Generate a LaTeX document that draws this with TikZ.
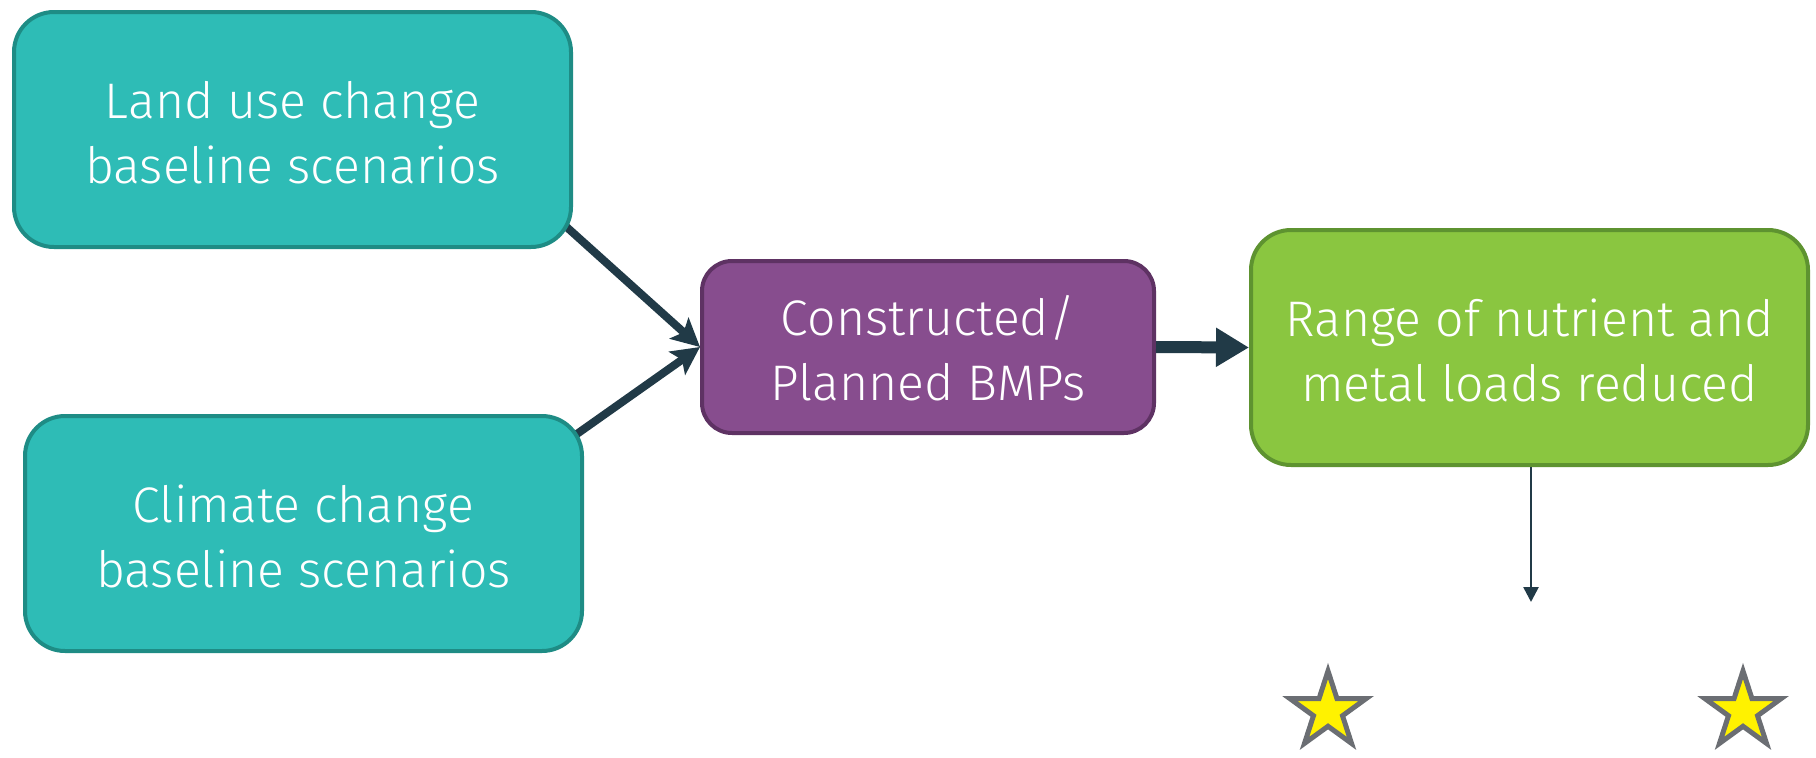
\documentclass[tikz,border=0pt]{standalone}
\usepackage{fontspec}
\setmainfont{Fira Sans Light}
\usetikzlibrary{shapes.geometric,arrows.meta,calc,backgrounds}
\definecolor{tealfill}{HTML}{2EBCB6}
\definecolor{tealline}{HTML}{1E8C85}
\definecolor{purpfill}{HTML}{874D8E}
\definecolor{purpline}{HTML}{5E3263}
\definecolor{greenfill}{HTML}{8AC640}
\definecolor{greenline}{HTML}{5E9330}
\definecolor{arrowcol}{HTML}{213A47}
\definecolor{stargray}{HTML}{6B6E73}
\tikzset{
  box/.style={rounded corners=40pt, line width=4pt, text=white, align=center,
    font=\fontsize{50}{65}\selectfont, inner sep=0pt, text height=117pt, text depth=10pt},
  tealbox/.style={box, fill=tealfill, draw=tealline, minimum width=557pt, minimum height=235pt},
  purpbox/.style={box, rounded corners=30pt, fill=purpfill, draw=purpline, minimum width=452pt, minimum height=172pt},
  greenbox/.style={box, fill=greenfill, draw=greenline, minimum width=557pt, minimum height=235pt},
  diagarrow/.style={draw=arrowcol, line width=8pt, -{Stealth[length=28pt,width=28pt,inset=6pt]}},
  fatarrow/.style={draw=arrowcol, line width=12pt, -{Triangle[length=33pt,width=37pt]}},
  thinarrow/.style={draw=arrowcol, line width=2.6pt, -{Triangle[length=15pt,width=15pt]}},
  starmark/.style={star, star points=5, star point ratio=2.618, fill=yellow, draw=stargray,
    line width=5pt, minimum size=80pt, inner sep=0pt}
}
\begin{document}
\begin{tikzpicture}[x=1pt,y=-1pt]
\useasboundingbox (0,0) rectangle (1816,758);
\node[tealbox] (land) at (292.5,129.5) {Land use change\\baseline scenarios};
\node[tealbox] (climate) at (303.5,533.5) {Climate change\\baseline scenarios};
\node[purpbox] (bmp) at (928,347) {Constructed/\\Planned BMPs};
\node[greenbox] (range) at (1529.5,347.5) {Range of nutrient and\\metal loads reduced};
\node[starmark] (star1) at (1328,711) {};
\node[starmark] (star2) at (1743,711) {};
\coordinate (down) at (1531,602);
\begin{scope}[on background layer]
\draw[diagarrow] ($(land.south east)+(-12,-27)$) -- (bmp.west);
\draw[diagarrow] ($(climate.north east)+(-10,22)$) -- (bmp.west);
\end{scope}
\draw[fatarrow] (bmp.east) -- (range.west);
\draw[thinarrow] (range.south -| down) -- (down);
\end{tikzpicture}
\end{document}
